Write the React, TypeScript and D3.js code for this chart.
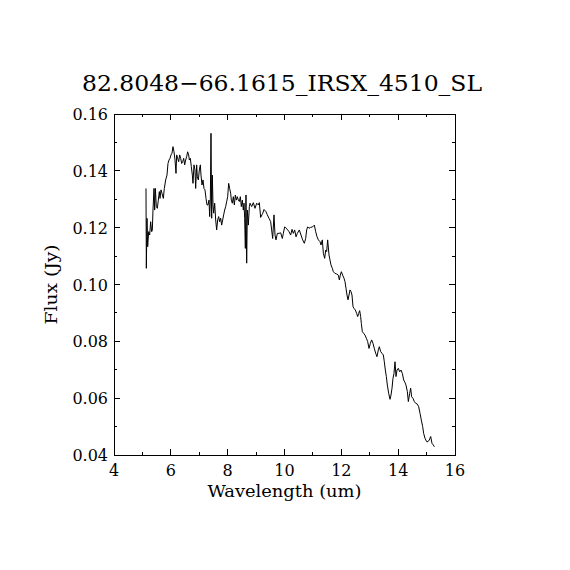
import React from 'react';
import * as d3 from 'd3';

const title = "82.8048\u221266.1615_IRSX_4510_SL";
const xLabel = "Wavelength (um)";
const yLabel = "Flux (Jy)";

const xMajor = [4, 6, 8, 10, 12, 14, 16];
const xMinor = [5, 7, 9, 11, 13, 15];
const yMajor = [0.04, 0.06, 0.08, 0.10, 0.12, 0.14, 0.16];
const yMinor = [0.05, 0.07, 0.09, 0.11, 0.13, 0.15];

// spectrum
const wavelength = [
    5.126, 5.138, 5.161, 5.185, 5.220, 5.255, 5.290, 5.326, 5.349, 5.372,
    5.408, 5.431, 5.455, 5.490, 5.525, 5.560, 5.595, 5.619, 5.654, 5.689,
    5.736, 5.771, 5.818, 5.865, 5.900, 5.935, 5.971, 6.006, 6.041, 6.076,
    6.111, 6.147, 6.182, 6.205, 6.240, 6.276, 6.311, 6.346, 6.381, 6.416,
    6.452, 6.487, 6.522, 6.557, 6.592, 6.627, 6.651, 6.686, 6.721, 6.757,
    6.780, 6.815, 6.850, 6.874, 6.909, 6.932, 6.968, 7.003, 7.038, 7.062,
    7.097, 7.132, 7.167, 7.202, 7.238, 7.273, 7.308, 7.343, 7.367, 7.390,
    7.413, 7.437, 7.460, 7.484, 7.507, 7.543, 7.578, 7.613, 7.648, 7.683,
    7.718, 7.754, 7.789, 7.824, 7.859, 7.894, 7.930, 7.965, 8.000, 8.035,
    8.070, 8.106, 8.129, 8.164, 8.199, 8.235, 8.270, 8.305, 8.340, 8.375,
    8.411, 8.446, 8.481, 8.516, 8.551, 8.575, 8.598, 8.622, 8.645, 8.669,
    8.692, 8.727, 8.763,
    8.786, 8.845, 8.903, 8.962, 9.021, 9.079, 9.114, 9.161, 9.232, 9.279,
    9.349, 9.396, 9.455, 9.513, 9.548, 9.584, 9.631, 9.666, 9.701, 9.748,
    9.807, 9.865, 9.924, 9.959, 10.006, 10.053, 10.100, 10.158, 10.217, 10.264,
    10.311, 10.358, 10.405, 10.452, 10.522, 10.581, 10.639, 10.698, 10.745, 10.780,
    10.815, 10.862, 10.921, 10.991, 11.050, 11.097, 11.144, 11.191, 11.249, 11.284,
    11.331, 11.367, 11.414, 11.449, 11.484, 11.519, 11.566, 11.601, 11.636, 11.683,
    11.719, 11.777, 11.836, 11.894, 11.930, 11.965, 12.000, 12.047, 12.094, 12.129,
    12.164, 12.199, 12.235, 12.270, 12.305, 12.340, 12.375, 12.411, 12.446, 12.493,
    12.540, 12.575, 12.610, 12.645, 12.680, 12.704, 12.739, 12.786, 12.833, 12.880,
    12.927, 12.974, 13.021, 13.067, 13.114, 13.161, 13.208, 13.255, 13.302, 13.337,
    13.384, 13.431, 13.478, 13.513, 13.548, 13.584, 13.619, 13.666, 13.713, 13.748,
    13.783, 13.818, 13.853, 13.889, 13.924, 13.959, 14.006, 14.053, 14.100, 14.147,
    14.194, 14.240, 14.276, 14.323, 14.358, 14.405, 14.440, 14.475, 14.522, 14.569,
    14.616, 14.675, 14.722, 14.768, 14.815, 14.862, 14.897, 14.944, 15.003, 15.050,
    15.097, 15.144, 15.191, 15.238, 15.273
];

const flux = [
    0.1338, 0.1057, 0.1233, 0.1133, 0.1186, 0.1174, 0.1221, 0.1186, 0.1192, 0.1262,
    0.1338, 0.1262, 0.1338, 0.1274, 0.1268, 0.1297, 0.1327, 0.1303, 0.1333, 0.1321,
    0.1303, 0.1338, 0.1368, 0.1385, 0.1426, 0.1438, 0.1444, 0.1456, 0.1462, 0.1485,
    0.1467, 0.1438, 0.1391, 0.1456, 0.1444, 0.1432, 0.1456, 0.1444, 0.1426, 0.1432,
    0.1444, 0.1421, 0.1438, 0.1450, 0.1467, 0.1456, 0.1438, 0.1444, 0.1415, 0.1385,
    0.1356, 0.1421, 0.1403, 0.1338, 0.1421, 0.1379, 0.1368, 0.1403, 0.1421, 0.1385,
    0.1350, 0.1368, 0.1338, 0.1333, 0.1303, 0.1280, 0.1280, 0.1297, 0.1239, 0.1297,
    0.1532, 0.1233, 0.1385, 0.1280, 0.1251, 0.1286, 0.1227, 0.1192, 0.1227, 0.1239,
    0.1221, 0.1233, 0.1209, 0.1227, 0.1245, 0.1262, 0.1274, 0.1292, 0.1309, 0.1356,
    0.1338, 0.1321, 0.1297, 0.1286, 0.1309, 0.1280, 0.1315, 0.1297, 0.1309, 0.1297,
    0.1292, 0.1309, 0.1274, 0.1297, 0.1262, 0.1286, 0.1233, 0.1127, 0.1315, 0.1075,
    0.1262, 0.1209, 0.1274,
    0.1286, 0.1274, 0.1288, 0.1268, 0.1286, 0.1280, 0.1288, 0.1236, 0.1250, 0.1264,
    0.1256, 0.1245, 0.1233, 0.1221, 0.1192, 0.1162, 0.1245, 0.1174, 0.1157, 0.1180,
    0.1180, 0.1182, 0.1162, 0.1180, 0.1203, 0.1198, 0.1194, 0.1186, 0.1174, 0.1194,
    0.1180, 0.1192, 0.1168, 0.1180, 0.1192, 0.1174, 0.1157, 0.1145, 0.1162, 0.1192,
    0.1203, 0.1198, 0.1201, 0.1203, 0.1209, 0.1186, 0.1168, 0.1157, 0.1151, 0.1139,
    0.1157, 0.1110, 0.1092, 0.1121, 0.1116, 0.1157, 0.1104, 0.1086, 0.1069, 0.1057,
    0.1045, 0.1039, 0.1037, 0.1033, 0.1016, 0.1033, 0.1045, 0.1033, 0.1022, 0.1010,
    0.0987, 0.0963, 0.0946, 0.0963, 0.0981, 0.0975, 0.0963, 0.0922, 0.0916, 0.0910,
    0.0898, 0.0887, 0.0898, 0.0908, 0.0887, 0.0863, 0.0834, 0.0828, 0.0822, 0.0811,
    0.0799, 0.0775, 0.0793, 0.0805, 0.0793, 0.0775, 0.0758, 0.0746, 0.0770, 0.0781,
    0.0764, 0.0758, 0.0752, 0.0728, 0.0699, 0.0676, 0.0646, 0.0617, 0.0596, 0.0611,
    0.0635, 0.0670, 0.0687, 0.0728, 0.0676, 0.0699, 0.0705, 0.0693, 0.0699, 0.0687,
    0.0664, 0.0655, 0.0646, 0.0623, 0.0588, 0.0617, 0.0635, 0.0605, 0.0599, 0.0588,
    0.0582, 0.0579, 0.0570, 0.0547, 0.0523, 0.0500, 0.0476, 0.0459, 0.0447, 0.0447,
    0.0453, 0.0465, 0.0441, 0.0435, 0.0429
];

const W = 570;
const H = 570;
const left = 114, right = 455, top = 114, bottom = 455;
const font = "'DejaVu Serif', serif";

export default function App() {
    const x = d3.scaleLinear().domain([4, 16]).range([left, right]);
    const y = d3.scaleLinear().domain([0.04, 0.16]).range([bottom, top]);

    const pts: [number, number][] = wavelength.map((w, i) => [w, flux[i]]);
    const line = d3.line<[number, number]>()
        .x(d => x(d[0]))
        .y(d => y(d[1]));

    const major = 6, minor = 3;

    return (
        <div style={{ position: "absolute", left: 0, top: 0, background: "#fff" }}>
            <svg width={W} height={H} style={{ display: "block" }}>
                <rect x={0} y={0} width={W} height={H} fill="#fff" />
                <text x={W / 2 - 3} y={91} textAnchor="middle" fontFamily={font} fontSize={23}
                    textLength={400} lengthAdjust="spacingAndGlyphs">{title}</text>

                <g stroke="#000" strokeWidth={1} shapeRendering="crispEdges">
                    <rect x={left} y={top} width={right - left} height={bottom - top} fill="none" />
                    {xMajor.map(t => (
                        <g key={"xM" + t}>
                            <line x1={x(t)} x2={x(t)} y1={bottom} y2={bottom - major} />
                            <line x1={x(t)} x2={x(t)} y1={top} y2={top + major} />
                        </g>
                    ))}
                    {xMinor.map(t => (
                        <g key={"xm" + t}>
                            <line x1={x(t)} x2={x(t)} y1={bottom} y2={bottom - minor} />
                            <line x1={x(t)} x2={x(t)} y1={top} y2={top + minor} />
                        </g>
                    ))}
                    {yMajor.map(t => (
                        <g key={"yM" + t}>
                            <line x1={left} x2={left + major} y1={y(t)} y2={y(t)} />
                            <line x1={right} x2={right - major} y1={y(t)} y2={y(t)} />
                        </g>
                    ))}
                    {yMinor.map(t => (
                        <g key={"ym" + t}>
                            <line x1={left} x2={left + minor} y1={y(t)} y2={y(t)} />
                            <line x1={right} x2={right - minor} y1={y(t)} y2={y(t)} />
                        </g>
                    ))}
                </g>

                <path d={line(pts) ?? ""} fill="none" stroke="#000" strokeWidth={1} />

                <g fontFamily={font} fontSize={16} fill="#000">
                    {xMajor.map(t => (
                        <text key={"xl" + t} x={x(t)} y={476} textAnchor="middle">{t}</text>
                    ))}
                    {yMajor.map(t => (
                        <text key={"yl" + t} x={108} y={y(t) + 6} textAnchor="end">{t.toFixed(2)}</text>
                    ))}
                    <text x={(left + right) / 2} y={497} textAnchor="middle"
                        textLength={154} lengthAdjust="spacingAndGlyphs">{xLabel}</text>
                    <text transform={`translate(57,${(top + bottom) / 2}) rotate(-90)`} textAnchor="middle"
                        textLength={80} lengthAdjust="spacingAndGlyphs">{yLabel}</text>
                </g>
            </svg>
        </div>
    );
}
